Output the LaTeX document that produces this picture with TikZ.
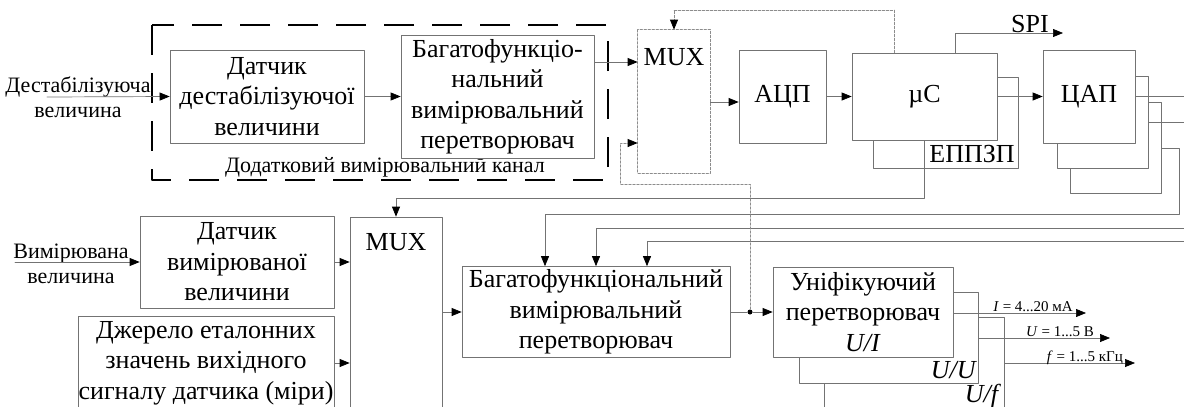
\documentclass[tikz,border=0pt]{standalone}
\usepackage{fontspec}
\setmainfont{Liberation Serif}
\usetikzlibrary{arrows.meta}
\definecolor{sqsqsq}{rgb}{0.45,0.45,0.45}
\definecolor{dcdcdc}{rgb}{0.55,0.55,0.55}

\begin{document}
\begin{tikzpicture}[line cap=round,line join=round,x=1pt,y=-1pt,
  >={Triangle[length=10pt,width=8pt,color=black]},
  blok/.style={draw=sqsqsq,fill=white,line width=0.7pt,inner sep=0pt,align=center,font=\fontsize{26}{30.5}\selectfont},
  napys/.style={inner sep=0pt,align=center,font=\fontsize{22}{25}\selectfont},
  mal/.style={inner sep=0pt,font=\fontsize{15}{17}\selectfont},
  zv/.style={draw=sqsqsq,line width=0.7pt},
  punkt/.style={draw=dcdcdc,line width=0.7pt,dash pattern=on 2.5pt off 1.5pt},
  kanal/.style={draw=black,line width=2.2pt,line cap=butt,dash pattern=on 30pt off 18pt}]
\clip (0,0) rectangle (1184,407);
%\draw [color=cqcqcq,dash pattern=on 1pt off 1pt, step=50pt] (0,0) grid (1184,407);
% dodatkovyi kanal
\draw[kanal] (152,25) rectangle (608,180);
\node[napys] (kan) at (385,167) {Додатковий вимірювальний канал};
\node[blok,minimum width=194pt,minimum height=93pt] (dsens) at (267,96.5) {Датчик\\дестабілізуючої\\величини};
\node[blok,minimum width=193pt,minimum height=123pt] (bfvp1) at (497.5,96.5) {Багатофункціо-\\нальний\\вимірювальний\\перетворювач};
\node[blok,draw=none,minimum width=72pt,minimum height=143pt] (mux1) at (674,101.5) {};
\draw[punkt] (mux1.north west) rectangle (mux1.south east);
\node[blok,fill=none,draw=none] (mux1t) at (674,57) {MUX};
\node[blok,minimum width=87pt,minimum height=93pt] (adc) at (782.5,96.5) {АЦП};
\node[blok,minimum width=145pt,minimum height=91pt] (eep) at (945.5,122.5) {};
\node[blok,minimum width=145pt,minimum height=87pt] (mc) at (924.5,96.5) {µC};
\node[blok,fill=none,draw=none] (eept) at (972,154) {ЕППЗП};
\node[blok,minimum width=91pt,minimum height=91pt] (dac3) at (1115.5,147.5) {};
\node[blok,minimum width=91pt,minimum height=92pt] (dac2) at (1102.5,122) {};
\node[blok,minimum width=92pt,minimum height=93pt] (dac) at (1089,96.5) {ЦАП};
% osnovnyi kanal
\node[blok,minimum width=194pt,minimum height=92pt] (sens2) at (237,262) {Датчик\\вимірюваної\\величини};
\node[blok,minimum width=256pt,minimum height=94pt] (ref) at (206,363) {Джерело еталонних\\значень вихідного\\сигналу датчика (міри)};
\node[blok,minimum width=92pt,minimum height=303pt] (mux2) at (396,368.5) {};
\node[blok,fill=none,draw=none] (mux2t) at (396,242) {MUX};
\node[blok,minimum width=268pt,minimum height=91pt] (bfvp2) at (596,312) {Багатофункціональний\\вимірювальний\\перетворювач};
\node[blok,minimum width=180pt,minimum height=123pt] (unif3) at (914,378.5) {};
\node[blok,minimum width=179pt,minimum height=91pt] (unif2) at (888.5,337.5) {};
\node[blok,minimum width=180pt,minimum height=90pt] (unif) at (863,312) {Уніфікуючий\\перетворювач\\\textit{U/I}};
\node[blok,fill=none,draw=none] (unif2t) at (954,370) {\textit{U/U}};
\node[blok,fill=none,draw=none] (unif3t) at (983,396) {\textit{U/f}};
\node[circle,fill=black,inner sep=0pt,minimum size=5pt] (vuz) at (750,312) {};
% vhody
\coordinate (vh1) at (47,97);
\node[napys] (vh1t) at (78,97) {Дестабілізуюча\\величина};
\coordinate (vh2) at (15,262);
\node[napys] (vh2t) at (71,264) {Вимірювана\\величина};
\draw[zv,->] (vh1) -- (dsens.west);
\draw[zv,->] (vh2) -- (sens2.west);
% zviazky
\draw[zv,->] (dsens.east) -- (bfvp1.west);
\draw[zv,->] (bfvp1.east |- 0,62) -- (mux1.west |- 0,62);
\draw[zv,->] (mux1.east |- 0,102) -- (adc.west |- 0,102);
\draw[zv,->] (adc.east) -- (mc.west);
\draw[zv,->] (mc.east) -- (dac.west);
\coordinate (spi) at (1063,33);
\draw[zv,->] (mc.north -| 955,0) |- (spi);
\node[blok,fill=none,draw=none] (spit) at (1030,24) {SPI};
\draw[punkt,->] (mc.north -| 894,0) -- (894,10) -| (mux1.north);
\draw[zv,->] (mc.south -| 924,0) -- (924,198) -| (mux2.north);
\coordinate (dacv1) at (1190,96.5);
\coordinate (dacv2) at (1190,122);
\coordinate (dacv3) at (1190,228);
\coordinate (dacv4) at (1190,241);
\draw[zv] (dac.east) -- (dacv1);
\draw[zv] (dac2.east) -- (dacv2);
\draw[zv,->] (dac3.east |- 0,148) -- (1179,148) -- (1179,214) -| (bfvp2.north -| 545,0);
\draw[zv,->] (dacv3) -| (bfvp2.north -| 596,0);
\draw[zv,->] (dacv4) -| (bfvp2.north -| 647,0);
\draw[zv,->] (sens2.east) -- (mux2.west |- sens2.east);
\draw[zv,->] (ref.east) -- (mux2.west |- ref.east);
\draw[zv,->] (mux2.east |- bfvp2.west) -- (bfvp2.west);
\draw[zv] (bfvp2.east) -- (vuz);
\draw[zv,->] (vuz) -- (unif.west);
\draw[punkt,->] (vuz) -- (750,184) -| (620,143) -- (mux1.west |- 0,143);
% vyhody
\coordinate (vyh1) at (1086,313);
\coordinate (vyh2) at (1110,338);
\coordinate (vyh3) at (1135,363);
\draw[zv,->] (unif.east |- vyh1) -- (vyh1);
\draw[zv,->] (unif2.east |- vyh2) -- (vyh2);
\draw[zv,->] (unif3.east |- vyh3) -- (vyh3);
\node[mal,anchor=base east] (vyh1t) at (1073,311) {\textit{I} = 4...20 мА};
\node[mal,anchor=base east] (vyh2t) at (1094,336) {\textit{U} = 1...5 В};
\node[mal,anchor=base east] (vyh3t) at (1123,361) {\textit{f} = 1...5 кГц};
\end{tikzpicture}
\end{document}
